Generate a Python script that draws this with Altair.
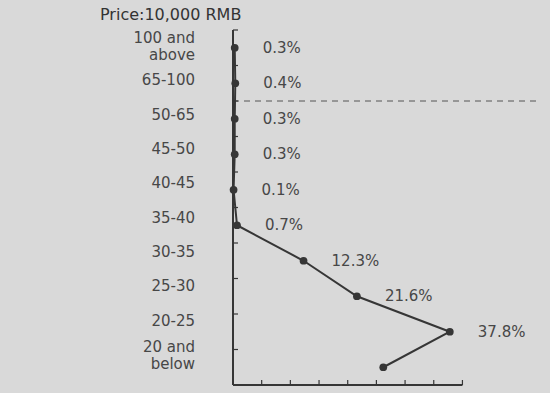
import altair as alt
import pandas as pd

# Price bands (10,000 RMB) from the top of the axis downward, and their shares (%)
bands = ["100 and\nabove", "65-100", "50-65", "45-50", "40-45",
         "35-40", "30-35", "25-30", "20-25", "20 and\nbelow"]
shares = [0.3, 0.4, 0.3, 0.3, 0.1, 0.7, 12.3, 21.6, 37.8, 26.2]
share_labels = ["0.3%", "0.4%", "0.3%", "0.3%", "0.1%",
                "0.7%", "12.3%", "21.6%", "37.8%", ""]
x_ticks = [0, 5, 10, 15, 20, 25, 30, 35, 40]
x_axis_end = 40
x_max = 53
split_after = 1  # dashed divider sits below the 65-100 band

W, H = 304, 355
FONT = "DejaVu Sans"
INK = "#363636"
TEXT = "#474747"

n = len(bands)
df = pd.DataFrame({"pos": list(range(n)), "band": bands,
                   "share": shares, "label": share_labels})
edges_df = pd.DataFrame({"edge": [i - 0.5 for i in range(n + 1)]})
ticks_df = pd.DataFrame({"t": x_ticks})

xs = alt.Scale(domain=[0, x_max], nice=False, zero=False)
ys = alt.Scale(domain=[-0.5, n - 0.5], nice=False, zero=False, reverse=True)
# the band names sit on a slightly tighter pitch than the points
ys_names = alt.Scale(domain=[-0.47, n - 0.12], nice=False, zero=False, reverse=True)

X = lambda f: alt.X(f, scale=xs, axis=None)
Y = lambda f: alt.Y(f, scale=ys, axis=None)

base = alt.Chart(df)

line = base.mark_line(color=INK, strokeWidth=2).encode(
    x=X("share:Q"), y=Y("pos:Q"), order="pos:Q",
)

points = base.mark_circle(color=INK, size=60, opacity=1).encode(
    x=X("share:Q"), y=Y("pos:Q"),
)

value_labels = base.mark_text(align="left", baseline="middle", dx=28,
                              font=FONT, fontSize=15, color=TEXT).encode(
    x=X("share:Q"), y=Y("pos:Q"), text="label:N",
)

# band names on the left; two-line names are centred on their band
is_two_line = "indexof(datum.band, '\\n') >= 0"
label_style = dict(align="right", baseline="middle", dx=-38,
                   lineBreak="\n", lineHeight=17,
                   font=FONT, fontSize=15, color=TEXT)
band_labels_1 = base.transform_filter(f"!({is_two_line})").mark_text(
    dy=0, **label_style).encode(
    x=alt.value(0), y=alt.Y("pos:Q", scale=ys_names, axis=None), text="band:N")
band_labels_2 = base.transform_filter(is_two_line).mark_text(
    dy=-8, **label_style).encode(
    x=alt.value(0), y=alt.Y("pos:Q", scale=ys_names, axis=None), text="band:N")
band_labels = alt.layer(band_labels_1, band_labels_2)

# price axis line and its small inward ticks at the band edges
y_line = alt.Chart(pd.DataFrame({"a": [-0.5], "b": [n - 0.5]})).mark_rule(
    color=INK, strokeWidth=2).encode(
    x=alt.value(0), y=Y("a:Q"), y2="b:Q",
)
y_ticks = alt.Chart(edges_df).mark_rule(color=INK, strokeWidth=1.2).encode(
    y=Y("edge:Q"), x=alt.value(0), x2=alt.value(5),
)

# dashed divider between the 65-100 and 50-65 bands
divider = alt.Chart(pd.DataFrame({"e": [split_after + 0.5], "x0": [0], "x1": [x_max]})
                    ).mark_rule(color="#555555", strokeWidth=1,
                                strokeDash=[6, 5]).encode(
    y=Y("e:Q"), x=X("x0:Q"), x2="x1:Q",
)

# share axis along the bottom, ticks pointing up
x_line = alt.Chart(pd.DataFrame({"a": [0], "b": [x_axis_end], "e": [n - 0.5]})).mark_rule(
    color=INK, strokeWidth=2).encode(
    x=X("a:Q"), x2="b:Q", y=Y("e:Q"),
)
x_tick_marks = alt.Chart(ticks_df).mark_rule(color=INK, strokeWidth=1.2).encode(
    x=X("t:Q"), y=alt.value(H), y2=alt.value(H - 5),
)

plot = alt.layer(divider, y_line, y_ticks, x_line, x_tick_marks,
                 line, points, value_labels)

chart = alt.layer(plot, band_labels).resolve_scale(y="independent").properties(
    width=W, height=H,
    autosize=alt.AutoSizeParams(type="none"),
    padding={"left": 233, "top": 30, "right": 13, "bottom": 8},
    background="#d9d9d9",
    title=alt.TitleParams(
        "Price:10,000 RMB", anchor="start", frame="group", dx=-133, offset=6,
        font=FONT, fontSize=16, fontWeight="normal", color="#333333",
    ),
).configure_view(stroke=None)

chart.save("out.html", embed_options={"renderer": "svg", "actions": False})
